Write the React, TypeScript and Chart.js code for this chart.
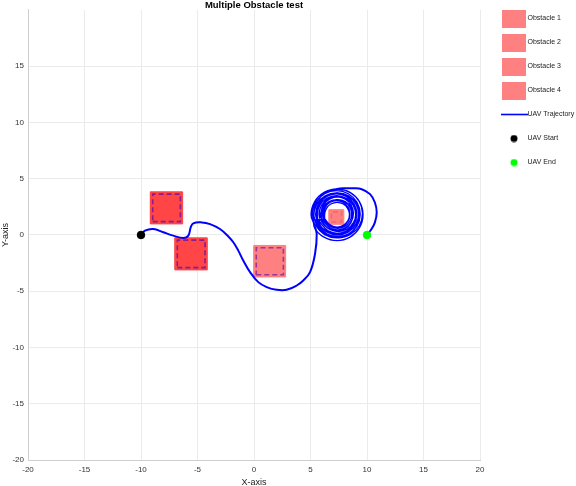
import React, { useEffect, useRef } from 'react';
import { Chart, registerables } from 'chart.js';

Chart.register(...registerables);

// ---- axis ranges / ticks ----
const X_MIN = -20;
const X_MAX = 20;
const Y_MIN = -20;
const Y_MAX = 20;
const TICK_STEP = 5;

// ---- obstacles (square centre + side length) ----
const obstacleNames = ['Obstacle 1', 'Obstacle 2', 'Obstacle 3', 'Obstacle 4'];
const obstacleCX = [-7.74, -5.56, 1.4, 7.3];
const obstacleCY = [2.41, -1.68, -2.33, 1.6];
const obstacleSide = [2.85, 2.85, 2.8, 1.3];
const obstacleFill = ['#ff4545', '#ff4545', '#ff8080', '#ff8080'];
const obstacleDash = ['#8a1c8c', '#8a1c8c', '#9a3696', '#f06a6a'];

// ---- UAV trajectory: approach from start ----
const approachX = [-10, -9.65, -8.91, -8.03, -7.14, -6.26, -5.81, -5.6, -5.37, -4.63, -3.89, -3.01, -2.27, -1.83, -1.39, -0.95, -0.35, 0.38, 1.12, 2.01, 2.89, 3.78, 4.36, 4.96, 5.4, 5.55, 5.35];
const approachY = [0, 0.38, 0.53, 0.24, -0.06, -0.27, -0.06, 0.68, 1.04, 1.12, 0.97, 0.53, -0.13, -0.65, -1.39, -2.27, -3.3, -4.19, -4.63, -4.87, -4.87, -4.49, -4.04, -3.3, -1.68, 0.09, 0.85];

// ---- UAV trajectory: circling around obstacle 4 (one row per loop) ----
const spiralX = [
  5.05, 5.36, 6.2, 7.35, 8.5, 9.34, 9.65, 9.34, 8.5, 7.35, 6.2, 5.36,
  5.3, 5.59, 6.375, 7.45, 8.525, 9.31, 9.6, 9.31, 8.525, 7.45, 6.375, 5.59,
  5.3, 5.57, 6.3, 7.3, 8.3, 9.03, 9.3, 9.03, 8.3, 7.3, 6.3, 5.57,
  5.55, 5.8, 6.475, 7.4, 8.325, 9.0, 9.25, 9.0, 8.325, 7.4, 6.475, 5.8,
  5.6, 5.83, 6.45, 7.3, 8.15, 8.77, 9.0, 8.77, 8.15, 7.3, 6.45, 5.83,
  5.9, 6.11, 6.675, 7.45, 8.225, 8.79, 9.0, 8.79, 8.225, 7.45, 6.675, 6.11,
  5.95, 6.14, 6.65, 7.35, 8.05, 8.56, 8.75, 8.56, 8.05, 7.35, 6.65, 6.14,
  6.15, 6.32, 6.775, 7.4, 8.025, 8.48, 8.65, 8.48, 8.025, 7.4, 6.775, 6.32,
  6.25, 6.4, 6.8, 7.35, 7.9, 8.3, 8.45, 8.3, 7.9, 7.35, 6.8, 6.4,
  6.1, 6.26, 6.7, 7.3, 7.9, 8.34, 8.5, 8.34, 7.9, 7.3, 6.7, 6.26,
  6.05, 6.23, 6.725, 7.4, 8.075, 8.57, 8.75, 8.57, 8.075, 7.4, 6.725, 6.23,
  5.8, 6.0, 6.55, 7.3, 8.05, 8.6, 8.8, 8.6, 8.05, 7.3, 6.55, 6.0,
  5.75, 5.97, 6.575, 7.4, 8.225, 8.83, 9.05, 8.83, 8.225, 7.4, 6.575, 5.97,
  5.5, 5.74, 6.4, 7.3, 8.2, 8.86, 9.1, 8.86, 8.2, 7.3, 6.4, 5.74,
  5.45, 5.71, 6.425, 7.4, 8.375, 9.09, 9.35, 9.09, 8.375, 7.4, 6.425, 5.71,
  5.2, 5.48, 6.25, 7.3, 8.35, 9.12, 9.4, 9.12, 8.35, 7.3, 6.25, 5.48,
  5.1, 5.4, 6.225, 7.35,
];
const spiralY = [
  1.8, 2.95, 3.79, 4.1, 3.79, 2.95, 1.8, 0.65, -0.19, -0.5, -0.19, 0.65,
  1.9, 2.975, 3.76, 4.05, 3.76, 2.975, 1.9, 0.825, 0.04, -0.25, 0.04, 0.825,
  1.75, 2.75, 3.48, 3.75, 3.48, 2.75, 1.75, 0.75, 0.02, -0.25, 0.02, 0.75,
  1.85, 2.775, 3.45, 3.7, 3.45, 2.775, 1.85, 0.925, 0.25, 0.0, 0.25, 0.925,
  1.8, 2.65, 3.27, 3.5, 3.27, 2.65, 1.8, 0.95, 0.33, 0.1, 0.33, 0.95,
  1.85, 2.625, 3.19, 3.4, 3.19, 2.625, 1.85, 1.075, 0.51, 0.3, 0.51, 1.075,
  1.75, 2.45, 2.96, 3.15, 2.96, 2.45, 1.75, 1.05, 0.54, 0.35, 0.54, 1.05,
  1.85, 2.475, 2.93, 3.1, 2.93, 2.475, 1.85, 1.225, 0.77, 0.6, 0.77, 1.225,
  1.8, 2.35, 2.75, 2.9, 2.75, 2.35, 1.8, 1.25, 0.85, 0.7, 0.85, 1.25,
  1.85, 2.45, 2.89, 3.05, 2.89, 2.45, 1.85, 1.25, 0.81, 0.65, 0.81, 1.25,
  1.8, 2.475, 2.97, 3.15, 2.97, 2.475, 1.8, 1.125, 0.63, 0.45, 0.63, 1.125,
  1.9, 2.65, 3.2, 3.4, 3.2, 2.65, 1.9, 1.15, 0.6, 0.4, 0.6, 1.15,
  1.8, 2.625, 3.23, 3.45, 3.23, 2.625, 1.8, 0.975, 0.37, 0.15, 0.37, 0.975,
  1.85, 2.75, 3.41, 3.65, 3.41, 2.75, 1.85, 0.95, 0.29, 0.05, 0.29, 0.95,
  1.8, 2.775, 3.49, 3.75, 3.49, 2.775, 1.8, 0.825, 0.11, -0.15, 0.11, 0.825,
  1.85, 2.9, 3.67, 3.95, 3.67, 2.9, 1.85, 0.8, 0.03, -0.25, 0.03, 0.8,
  1.85, 2.975, 3.8, 4.1,
];

// ---- UAV trajectory: exit to the goal ----
const exitX = [8.1, 8.78, 9.53, 10.27, 10.7, 10.86, 10.7, 10.4, 10.0];
const exitY = [4.15, 4.15, 4.07, 3.63, 2.89, 2.0, 1.12, 0.53, 0.0];

const startX = [-10];
const startY = [0];
const endX = [10];
const endY = [0];

const LEGEND_W = 89;
const FONT = "'Liberation Sans', Arial, Helvetica, sans-serif";

function makeCanvas(w: number, h: number, draw: (g: CanvasRenderingContext2D) => void) {
  const c = document.createElement('canvas');
  c.width = w;
  c.height = h;
  const g = c.getContext('2d')!;
  draw(g);
  return c;
}

function square(cx: number, cy: number, half: number) {
  return [
    { x: cx - half, y: cy - half },
    { x: cx + half, y: cy - half },
    { x: cx + half, y: cy + half },
    { x: cx - half, y: cy + half },
    { x: cx - half, y: cy - half },
  ];
}

const layoutFix = {
  id: 'layoutFix',
  beforeLayout(chart: any) {
    const lg = chart.legend;
    if (lg && !lg.__patched) {
      const f = lg.fit.bind(lg);
      lg.fit = () => {
        f();
        lg.width = LEGEND_W;
      };
      lg.__patched = true;
    }
  },
  afterLayout(chart: any) {
    const lg = chart.legend;
    if (lg) {
      lg.top -= 2;
      lg.bottom -= 2;
    }
  },
};

export default function App() {
  const ref = useRef<HTMLCanvasElement | null>(null);

  useEffect(() => {
    if (!ref.current) return;

    const traj: { x: number; y: number }[] = [];
    approachX.forEach((x, i) => traj.push({ x, y: approachY[i] }));
    spiralX.forEach((x, i) => traj.push({ x, y: spiralY[i] }));
    exitX.forEach((x, i) => traj.push({ x, y: exitY[i] }));
    const spiralStart = approachX.length - 1;
    const spiralEnd = approachX.length + spiralX.length - 1;

    const fillSets = obstacleNames.map((name, i) => ({
      label: name,
      data: square(obstacleCX[i], obstacleCY[i], obstacleSide[i] / 2),
      showLine: true,
      fill: 'shape',
      backgroundColor: obstacleFill[i],
      borderColor: obstacleFill[i],
      borderWidth: 1,
      pointRadius: 0,
      tension: 0,
      order: 4,
    }));
    const dashSets = obstacleNames.map((name, i) => ({
      label: name + ' edge',
      data: square(obstacleCX[i], obstacleCY[i], obstacleSide[i] / 2 - 0.2),
      showLine: true,
      fill: false,
      borderColor: obstacleDash[i],
      borderWidth: 1.6,
      borderDash: [5, 3],
      pointRadius: 0,
      tension: 0,
      order: 3,
    }));

    const swatch = makeCanvas(24, 18, (g) => {
      g.fillStyle = '#ff8080';
      g.fillRect(0, 0, 24, 18);
    });
    const lineImg = makeCanvas(27, 3, (g) => {
      g.strokeStyle = '#0000ff';
      g.lineWidth = 1.6;
      g.beginPath();
      g.moveTo(0, 1.5);
      g.lineTo(27, 1.5);
      g.stroke();
    });
    const dot = (color: string) =>
      makeCanvas(8, 8, (g) => {
        g.fillStyle = color;
        g.beginPath();
        g.arc(4, 4, 3.5, 0, Math.PI * 2);
        g.fill();
      });
    const blackDot = dot('#000000');
    const greenDot = dot('#00ff00');

    const chart = new Chart(ref.current, {
      type: 'scatter',
      data: {
        datasets: [
          ...fillSets,
          ...dashSets,
          {
            label: 'UAV Trajectory',
            data: traj,
            showLine: true,
            fill: false,
            borderColor: '#0000ff',
            borderWidth: 2,
            pointRadius: 0,
            tension: 0.4,
            order: 1,
            segment: {
              borderWidth: (ctx: any) =>
                ctx.p0DataIndex >= spiralStart && ctx.p0DataIndex < spiralEnd ? 1.3 : 2,
            },
          },
          {
            label: 'UAV Start',
            data: startX.map((x, i) => ({ x, y: startY[i] })),
            backgroundColor: '#000000',
            borderColor: '#000000',
            pointRadius: 3.8,
            order: 0,
          },
          {
            label: 'UAV End',
            data: endX.map((x, i) => ({ x, y: endY[i] })),
            backgroundColor: '#00ff00',
            borderColor: '#00ff00',
            pointRadius: 3.8,
            order: 0,
          },
        ] as any,
      },
      options: {
        responsive: false,
        animation: false,
        layout: { padding: 0 },
        plugins: {
          tooltip: { enabled: false },
          title: {
            display: true,
            text: 'Multiple Obstacle test',
            fullSize: false,
            color: '#000',
            font: { family: FONT, size: 9.5, weight: 'bold', lineHeight: 1.05 },
            padding: { top: 0, bottom: 0 },
          },
          legend: {
            position: 'right',
            align: 'start',
            labels: {
              usePointStyle: true,
              pointStyleWidth: 20,
              boxWidth: 20,
              boxHeight: 7,
              padding: 17,
              color: '#222',
              font: { family: FONT, size: 7 },
              generateLabels: () => [
                ...obstacleNames.map((n, i) => ({ text: n, pointStyle: swatch, fillStyle: '#ff8080', strokeStyle: '#ff8080', lineWidth: 0, datasetIndex: i, hidden: false, fontColor: '#222' })),
                { text: 'UAV Trajectory', pointStyle: lineImg, fillStyle: '#0000ff', strokeStyle: '#0000ff', lineWidth: 0, datasetIndex: 8, hidden: false, fontColor: '#222' },
                { text: 'UAV Start', pointStyle: blackDot, fillStyle: '#000', strokeStyle: '#000', lineWidth: 0, datasetIndex: 9, hidden: false, fontColor: '#222' },
                { text: 'UAV End', pointStyle: greenDot, fillStyle: '#0f0', strokeStyle: '#0f0', lineWidth: 0, datasetIndex: 10, hidden: false, fontColor: '#222' },
              ] as any,
            },
            onClick: () => {},
          },
        },
        scales: {
          x: {
            type: 'linear',
            min: X_MIN,
            max: X_MAX,
            afterFit: (s: any) => {
              s.height = 26;
            },
            ticks: {
              stepSize: TICK_STEP,
              autoSkip: false,
              maxRotation: 0,
              padding: 5,
              color: '#333',
              font: { family: FONT, size: 8 },
            },
            grid: { color: '#ebebeb', drawTicks: false },
            border: { color: '#cfcfcf' },
            title: {
              display: true,
              text: 'X-axis',
              color: '#222',
              font: { family: FONT, size: 9 },
              padding: { top: 0, bottom: -2 },
            },
          },
          y: {
            type: 'linear',
            min: Y_MIN,
            max: Y_MAX,
            afterFit: (s: any) => {
              s.width = 28;
            },
            ticks: {
              stepSize: TICK_STEP,
              padding: 4,
              color: '#333',
              font: { family: FONT, size: 8 },
              callback: (v: any) => (v === Y_MAX ? '' : String(v)),
            },
            grid: {
              drawTicks: false,
              color: (ctx: any) => (ctx.tick && ctx.tick.value === Y_MAX ? 'rgba(0,0,0,0)' : '#ebebeb'),
            },
            border: { color: '#cfcfcf' },
            title: {
              display: true,
              text: 'Y-axis',
              color: '#222',
              font: { family: FONT, size: 9 },
              padding: 0,
            },
          },
          spacer: {
            type: 'linear',
            position: 'right',
            display: true,
            afterFit: (s: any) => {
              s.width = 7;
            },
            ticks: { display: false },
            grid: { display: false, drawTicks: false },
            border: { display: false },
          },
        },
      } as any,
      plugins: [layoutFix],
    });

    return () => chart.destroy();
  }, []);

  return (
    <div style={{ position: 'fixed', left: 0, top: 0, width: 576, height: 486, background: '#fff' }}>
      <canvas ref={ref} width={576} height={486} style={{ display: 'block' }} />
    </div>
  );
}
